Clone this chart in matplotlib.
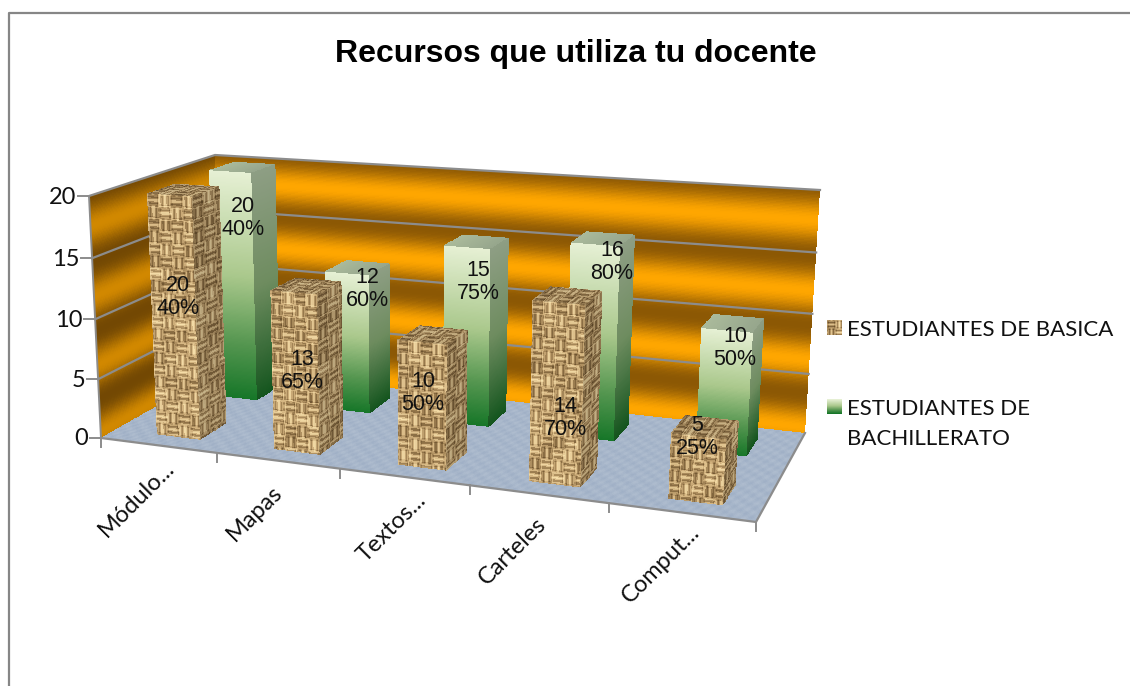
import numpy as np
import matplotlib
matplotlib.use("Agg")
import matplotlib.pyplot as plt

categories = ["Módulo...", "Mapas", "Textos...", "Carteles", "Comput..."]
basica = [20, 13, 10, 14, 5]
bachillerato = [20, 12, 15, 16, 10]
basica_pct = ["40%", "65%", "50%", "70%", "25%"]
bachillerato_pct = ["40%", "60%", "75%", "80%", "50%"]
z_ticks = [0, 5, 10, 15, 20]
z_max = 20.0
series_names = ["ESTUDIANTES DE BASICA", "ESTUDIANTES DE\nBACHILLERATO"]
title = "Recursos que utiliza tu docente"

# camera: unit box corners (x, depth, height) -> pixel, fitted by DLT
box = np.array([[0, 0, 0], [1, 0, 0], [1, 1, 0], [0, 0, 1], [0, 1, 1], [1, 1, 1]], float)
pix = np.array([[101, 438], [756, 522], [805, 433], [89, 196], [215, 155], [820, 190]], float)
A, b = [], []
for (x, y, z), (u, v) in zip(box, pix):
    A.append([x, y, z, 1, 0, 0, 0, 0, -u * x, -u * y, -u * z])
    A.append([0, 0, 0, 0, x, y, z, 1, -v * x, -v * y, -v * z])
    b += [u, v]
cam = np.linalg.lstsq(np.array(A), np.array(b), rcond=None)[0]
cam = np.append(cam, 1).reshape(3, 4)


def project(x, y, z):
    x, y, z = np.broadcast_arrays(np.asarray(x, float), np.asarray(y, float), np.asarray(z, float))
    w = cam[2, 0] * x + cam[2, 1] * y + cam[2, 2] * z + cam[2, 3]
    px = (cam[0, 0] * x + cam[0, 1] * y + cam[0, 2] * z + cam[0, 3]) / w
    py = (cam[1, 0] * x + cam[1, 1] * y + cam[1, 2] * z + cam[1, 3]) / w
    return px, py


def ramp(t, stops):
    t = np.asarray(t)
    pos = [s[0] for s in stops]
    return np.stack([np.interp(t, pos, [s[1][k] for s in stops]) for k in range(3)], axis=-1) / 255


def weave_raw(i, j):
    size = 12.0
    ci = np.floor(i / size)
    cj = np.floor(j / size)
    horiz = (ci + cj) % 2 == 0
    strand = np.where(horiz, j, i)
    along = np.where(horiz, i, j)
    v = 0.6 + 0.36 * np.cos(2 * np.pi * strand / (size / 2.0))
    # each block gets its own tone, plus dark seams at block edges
    tone = np.sin(ci * 12.9898 + cj * 78.233) * 43758.5453
    tone = tone - np.floor(tone)
    v = v + 0.22 * (tone - 0.5)
    edge = np.abs((along / size) % 1 - 0.5) * 2
    v = v - 0.3 * (edge > 0.82)
    return np.clip(v, 0, 1)


def weave(i, j):
    # soften it a little, the reference texture is blurry
    d = 0.7
    return (weave_raw(i - d, j - d) + weave_raw(i + d, j - d) + weave_raw(i - d, j + d) + weave_raw(i + d, j + d)) / 4


WEAVE_STOPS = [(0, (90, 66, 34)), (0.35, (150, 120, 76)), (0.65, (208, 176, 124)), (1, (250, 228, 175))]
GREEN_FRONT = [(0, (230, 240, 212)), (0.45, (170, 200, 140)), (0.75, (85, 150, 80)), (1, (22, 118, 40))]
GREEN_SIDE = [(0, (142, 158, 132)), (0.5, (110, 140, 95)), (1, (20, 85, 30))]

fig = plt.figure(figsize=(11.3, 6.86), dpi=100)
ax = fig.add_axes([0, 0, 1, 1])
ax.axis("off")


def face(o, du, dv, colorfn, zorder):
    # o, du, dv are in box coordinates; colorfn gets (s, t, len_s, len_t)
    o, du, dv = np.array(o, float), np.array(du, float), np.array(dv, float)
    ends = [project(*o), project(*(o + du)), project(*(o + dv))]
    lu = np.hypot(ends[1][0] - ends[0][0], ends[1][1] - ends[0][1])
    lv = np.hypot(ends[2][0] - ends[0][0], ends[2][1] - ends[0][1])
    nu = max(int(lu / 1.2), 1)
    nv = max(int(lv / 1.2), 1)
    s, t = np.meshgrid(np.linspace(0, 1, nu + 1), np.linspace(0, 1, nv + 1))
    X, Y = project(o[0] + s * du[0] + t * dv[0], o[1] + s * du[1] + t * dv[1], o[2] + s * du[2] + t * dv[2])
    sc = (s[:-1, :-1] + s[1:, 1:]) / 2
    tc = (t[:-1, :-1] + t[1:, 1:]) / 2
    ax.pcolormesh(X, Y, colorfn(sc, tc, lu, lv), shading="flat", zorder=zorder)


def wall_color(shade):
    def fn(s, t, lu, lv):
        z = t * z_max
        v = 0.5 + 0.5 * np.cos(2 * np.pi * (z - 0.5) / 5.7)
        return ramp(v ** 1.2, [(0, (140, 88, 4)), (1, (255, 166, 0))]) * shade
    return fn


def floor_color(s, t, lu, lv):
    i, j = s * lu, t * lv
    v = 0.5 + 0.25 * np.sin(i * 0.31 + j * 0.53) + 0.25 * np.sin(i * 0.73 - j * 0.41)
    return ramp(v, [(0, (160, 176, 198)), (1, (174, 188, 206))])


# walls and floor
face((0, 1, 0), (1, 0, 0), (0, 0, 1), wall_color(1.0), 1)
face((0, 0, 0), (0, 1, 0), (0, 0, 1), wall_color(0.82), 1)
face((0, 0, 0), (1, 0, 0), (0, 1, 0), floor_color, 1)

GRID = "#8c8c8c"
for tick in z_ticks:
    z = tick / z_max
    xs, ys = project([0, 0, 1], [0, 1, 1], z)
    if tick > 0:
        ax.plot(xs, ys, color=GRID, lw=1.6, zorder=1.5)
    tx, ty = project(0, 0, z)
    ax.plot([tx - 11, tx], [ty, ty], color=GRID, lw=1.4, zorder=1.5)
    ax.text(tx - 13, ty + 1, str(tick), ha="right", va="center", fontsize=17, family="Lato", color="#111111")

# axis edges
xs, ys = project([0, 0], [0, 0], [0, 1])
ax.plot(xs, ys, color=GRID, lw=1.4, zorder=1.5)
xs, ys = project([0, 1, 1], [0, 0, 1], [0, 0, 0])
ax.plot(xs, ys, color=GRID, lw=1.6, zorder=1.5)
n = len(categories)
for i in range(n + 1):
    tx, ty = project(i / n, 0, 0)
    ax.plot([tx, tx], [ty, ty + 9], color=GRID, lw=1.4, zorder=1.5)

# bars
bar_w = 0.075
bar_d = 0.22
depth_basica = 0.115
depth_bach = 0.65
shift_basica = 0.009
shift_bach = 0.0


def weave_face(brightness):
    def fn(s, t, lu, lv):
        return ramp(weave(s * lu, t * lv), WEAVE_STOPS) * brightness
    return fn


def green_front(s, t, lu, lv):
    return ramp(t, GREEN_FRONT)


def green_side(s, t, lu, lv):
    return ramp(t, GREEN_SIDE)


def green_top(s, t, lu, lv):
    return ramp(s, [(0, (170, 186, 155)), (1, (150, 166, 140))])


def draw_bar(i, val, depth, shift, front, side, top, zorder):
    x0 = (i + 0.5) / n - bar_w / 2 + shift
    h = val / z_max
    face((x0, depth, h), (bar_w, 0, 0), (0, bar_d, 0), top, zorder)
    face((x0 + bar_w, depth, h), (0, bar_d, 0), (0, 0, -h), side, zorder)
    face((x0, depth, h), (bar_w, 0, 0), (0, 0, -h), front, zorder)


for i in range(n):
    draw_bar(i, bachillerato[i], depth_bach, shift_bach, green_front, green_side, green_top, 2 + i * 0.01)
for i in range(n):
    draw_bar(i, basica[i], depth_basica, shift_basica, weave_face(1.0), weave_face(0.8), weave_face(0.85), 3 + i * 0.01)

# data labels
basica_label_xy = [(178, 297), (302, 371), (423, 393), (565, 418), (697, 437)]
bach_label_xy = [(243, 218), (367, 289), (478, 282), (612, 262), (735, 348)]
for i in range(n):
    ax.text(*basica_label_xy[i], f"{basica[i]}\n{basica_pct[i]}", ha="center", va="center",
            fontsize=15.5, family="Liberation Sans", color="#111111", linespacing=1.14, zorder=5)
    ax.text(*bach_label_xy[i], f"{bachillerato[i]}\n{bachillerato_pct[i]}", ha="center", va="center",
            fontsize=15.5, family="Liberation Sans", color="#111111", linespacing=1.14, zorder=5)

# category labels
cat_label_xy = [(137, 499), (255, 513), (392, 528), (513, 551), (661, 564)]
for i, cat in enumerate(categories):
    ax.text(*cat_label_xy[i], cat, rotation=45, ha="center", va="center", rotation_mode="anchor",
            fontsize=17, family="Lato", color="#111111")

# legend
yy, xx = np.mgrid[0:15, 0:15]
swatch_a = ramp(weave(xx * 1.5, yy * 1.5), WEAVE_STOPS)
swatch_b = ramp(yy[:, :1] / 14.0, GREEN_FRONT)
ax.imshow(swatch_a, extent=(827, 842, 335, 320), aspect="auto", zorder=5, interpolation="bilinear")
ax.imshow(swatch_b, extent=(827, 842, 414, 399), aspect="auto", zorder=5, interpolation="bilinear")
ax.text(847, 330, series_names[0], va="center", fontsize=16, family="Lato", color="#111111")
ax.text(847, 424, series_names[1], va="center", fontsize=16, family="Lato", color="#111111", linespacing=1.6)

ax.text(576, 54, title, ha="center", va="center", fontsize=23, fontweight="bold", family="Liberation Sans", color="black")

# chart frame
ax.plot([9, 9, 1130], [686, 12.5, 12.5], color="#868686", lw=1.6, zorder=6)

ax.set_xlim(0, 1130)
ax.set_ylim(686, 0)
fig.savefig("out.png", dpi=100, facecolor="white")
